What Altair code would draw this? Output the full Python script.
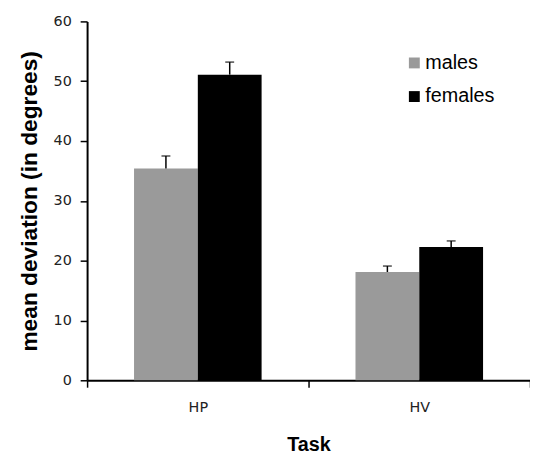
import altair as alt
import pandas as pd

tasks = ["HP", "HV"]
groups = ["males", "females"]
male_means = [35.4, 18.1]
female_means = [51.1, 22.3]
male_err = [2.1, 1.0]
female_err = [2.1, 1.0]
colors = ["#9a9a9a", "#000000"]

rows = []
for i, t in enumerate(tasks):
    rows.append({"task": t, "sex": "males", "mean": male_means[i], "upper": male_means[i] + male_err[i]})
    rows.append({"task": t, "sex": "females", "mean": female_means[i], "upper": female_means[i] + female_err[i]})
df = pd.DataFrame(rows)

x_enc = alt.X(
    "task:N",
    sort=tasks,
    title="Task",
    scale=alt.Scale(paddingInner=0, paddingOuter=0),
    axis=alt.Axis(
        tickBand="extent", labelAngle=0, labelFont="DejaVu Sans", labelFontSize=14.5,
        labelColor="#222222", labelPadding=14, tickSize=7, tickColor="black",
        tickWidth=1.5, domainColor="black", domainWidth=2,
        titleFont="Liberation Sans", titleFontSize=20, titleFontWeight="bold",
        titleColor="black", titlePadding=21,
    ),
)
xoff = alt.XOffset("sex:N", sort=groups, scale=alt.Scale(paddingInner=0, paddingOuter=0.736))
y_enc = alt.Y(
    "mean:Q",
    title="mean deviation (in degrees)",
    scale=alt.Scale(domain=[0, 60], nice=False),
    axis=alt.Axis(
        values=[0, 10, 20, 30, 40, 50, 60], grid=False, labelFont="DejaVu Sans",
        labelFontSize=14.5, labelColor="#222222", labelPadding=9, tickSize=7,
        tickColor="black", tickWidth=1.5, domainColor="black", domainWidth=2,
        titleFont="Liberation Sans", titleFontSize=23, titleFontWeight="bold",
        titleColor="black", titlePadding=12,
    ),
)

bars = alt.Chart(df).mark_bar().encode(
    x=x_enc,
    xOffset=xoff,
    y=y_enc,
    color=alt.Color(
        "sex:N",
        scale=alt.Scale(domain=groups, range=colors),
        legend=alt.Legend(
            title=None, orient="none", legendX=321, legendY=32,
            symbolType="square", symbolSize=121, symbolStrokeWidth=0,
            labelFont="Liberation Sans", labelFontSize=20, labelColor="black",
            labelOffset=1, rowPadding=14,
        ),
    ),
)

err = alt.Chart(df).mark_rule(color="black", strokeWidth=1.5).encode(
    x=alt.X("task:N", sort=tasks),
    xOffset=alt.XOffset("sex:N", sort=groups),
    y="mean:Q",
    y2="upper:Q",
)
caps = alt.Chart(df).mark_tick(color="black", size=9, thickness=1.5, orient="horizontal").encode(
    x=alt.X("task:N", sort=tasks),
    xOffset=alt.XOffset("sex:N", sort=groups),
    y="upper:Q",
)

chart = (
    alt.layer(bars, err, caps)
    .properties(
        width=448,
        height=363,
        padding={"left": 80, "top": 11, "right": 0, "bottom": 73},
        autosize=alt.AutoSizeParams(type="none"),
    )
    .configure_view(stroke=None)
)

chart.save("out.html", embed_options={"renderer": "svg", "actions": False})
